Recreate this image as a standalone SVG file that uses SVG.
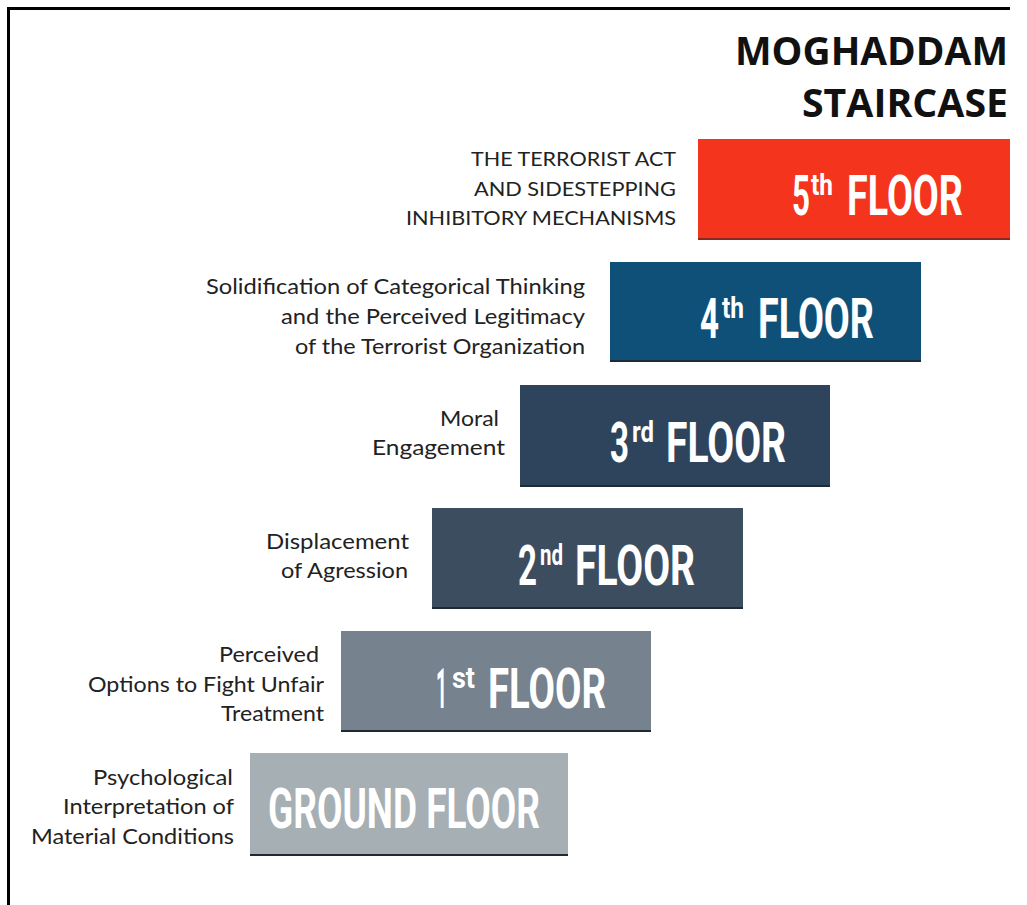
<svg xmlns="http://www.w3.org/2000/svg" width="1027" height="905" viewBox="0 0 1027 905">
<style>
.lbl{font-family:Lato,"Open Sans","Liberation Sans",sans-serif;font-size:21px;fill:#222;text-anchor:end}
.lblc{font-family:Lato,"Open Sans","Liberation Sans",sans-serif;font-size:19.5px;fill:#222;text-anchor:end}
.ttl{font-family:"Open Sans","Liberation Sans",sans-serif;font-size:39px;font-weight:bold;fill:#111;text-anchor:end}
.big{font-family:Roboto,"Liberation Sans",sans-serif;font-weight:bold;font-size:56px;fill:#fff}
.sup{font-size:29px}
.shadow{fill:#1e2a35}
</style>
<rect x="0" y="0" width="1027" height="905" fill="#fff"/>
<path d="M8.5 905 V8.5 H1010" fill="none" stroke="#000" stroke-width="3"/>
<g id="title">
<text class="ttl" x="1008" y="65" textLength="273" lengthAdjust="spacingAndGlyphs">MOGHADDAM</text>
<text class="ttl" x="1008" y="117" textLength="206" lengthAdjust="spacingAndGlyphs">STAIRCASE</text>
</g>
<g id="floor5">
<rect x="698" y="139" width="312" height="101" fill="#f4341d"/>
<rect x="698" y="238" width="312" height="2" fill="#8a2a1c"/>
<text class="big"><tspan x="792" y="215" textLength="18" lengthAdjust="spacingAndGlyphs">5</tspan><tspan class="sup" x="811" y="195" textLength="22" lengthAdjust="spacingAndGlyphs">th</tspan><tspan x="847" y="215" textLength="116" lengthAdjust="spacingAndGlyphs">FLOOR</tspan></text>
<text class="lblc" x="676" y="166" textLength="205" lengthAdjust="spacingAndGlyphs">THE TERRORIST ACT</text>
<text class="lblc" x="676" y="196" textLength="202" lengthAdjust="spacingAndGlyphs">AND SIDESTEPPING</text>
<text class="lblc" x="676" y="225" textLength="270" lengthAdjust="spacingAndGlyphs">INHIBITORY MECHANISMS</text>
</g>
<g id="floor4">
<rect x="610" y="262" width="311" height="100" fill="#0e5078"/>
<rect x="610" y="360" width="311" height="2" class="shadow"/>
<text class="big"><tspan x="700" y="338" textLength="19" lengthAdjust="spacingAndGlyphs">4</tspan><tspan class="sup" x="722" y="318" textLength="22" lengthAdjust="spacingAndGlyphs">th</tspan><tspan x="758" y="338" textLength="116" lengthAdjust="spacingAndGlyphs">FLOOR</tspan></text>
<text class="lbl" x="585" y="294" textLength="379" lengthAdjust="spacingAndGlyphs">Solidification of Categorical Thinking</text>
<text class="lbl" x="585" y="324" textLength="304" lengthAdjust="spacingAndGlyphs">and the Perceived Legitimacy</text>
<text class="lbl" x="585" y="354" textLength="290" lengthAdjust="spacingAndGlyphs">of the Terrorist Organization</text>
</g>
<g id="floor3">
<rect x="520" y="385" width="310" height="102" fill="#2e445d"/>
<rect x="520" y="485" width="310" height="2" class="shadow"/>
<text class="big"><tspan x="610" y="462" textLength="19" lengthAdjust="spacingAndGlyphs">3</tspan><tspan class="sup" x="632" y="442" textLength="22" lengthAdjust="spacingAndGlyphs">rd</tspan><tspan x="666" y="462" textLength="120" lengthAdjust="spacingAndGlyphs">FLOOR</tspan></text>
<text class="lbl" x="499" y="426" textLength="59" lengthAdjust="spacingAndGlyphs">Moral</text>
<text class="lbl" x="505" y="455" textLength="133" lengthAdjust="spacingAndGlyphs">Engagement</text>
</g>
<g id="floor2">
<rect x="432" y="508" width="311" height="101" fill="#3c4d60"/>
<rect x="432" y="607" width="311" height="2" class="shadow"/>
<text class="big"><tspan x="518" y="585" textLength="19" lengthAdjust="spacingAndGlyphs">2</tspan><tspan class="sup" x="540" y="565" textLength="23" lengthAdjust="spacingAndGlyphs">nd</tspan><tspan x="575" y="585" textLength="120" lengthAdjust="spacingAndGlyphs">FLOOR</tspan></text>
<text class="lbl" x="409" y="549" textLength="143" lengthAdjust="spacingAndGlyphs">Displacement</text>
<text class="lbl" x="408" y="578" textLength="127" lengthAdjust="spacingAndGlyphs">of Agression</text>
</g>
<g id="floor1">
<rect x="341" y="631" width="310" height="101" fill="#76828e"/>
<rect x="341" y="730" width="310" height="2" class="shadow"/>
<text class="big"><tspan x="436" y="708" textLength="11" lengthAdjust="spacingAndGlyphs">1</tspan><tspan class="sup" x="452" y="688" textLength="23" lengthAdjust="spacingAndGlyphs">st</tspan><tspan x="488" y="708" textLength="118" lengthAdjust="spacingAndGlyphs">FLOOR</tspan></text>
<text class="lbl" x="319" y="662" textLength="100" lengthAdjust="spacingAndGlyphs">Perceived</text>
<text class="lbl" x="324" y="692" textLength="236" lengthAdjust="spacingAndGlyphs">Options to Fight Unfair</text>
<text class="lbl" x="324" y="721" textLength="103" lengthAdjust="spacingAndGlyphs">Treatment</text>
</g>
<g id="ground">
<rect x="250" y="753" width="318" height="103" fill="#a6afb4"/>
<rect x="250" y="854" width="318" height="2" class="shadow"/>
<text class="big" x="268" y="828" textLength="272" lengthAdjust="spacingAndGlyphs">GROUND FLOOR</text>
<text class="lbl" x="233" y="785" textLength="140" lengthAdjust="spacingAndGlyphs">Psychological</text>
<text class="lbl" x="234" y="814" textLength="171" lengthAdjust="spacingAndGlyphs">Interpretation of</text>
<text class="lbl" x="234" y="844" textLength="203" lengthAdjust="spacingAndGlyphs">Material Conditions</text>
</g>
<g id="connectors"></g>
</svg>
